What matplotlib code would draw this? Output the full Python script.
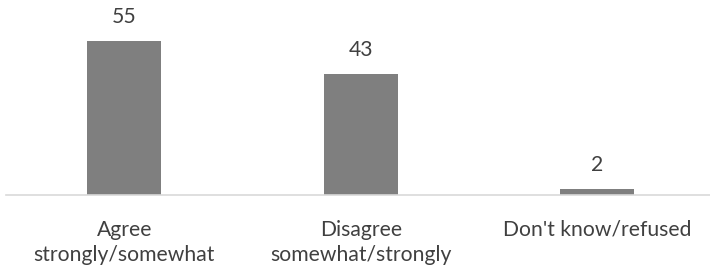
import matplotlib.pyplot as plt

categories = ["Agree\nstrongly/somewhat", "Disagree\nsomewhat/strongly", "Don't know/refused"]
values = [55, 43, 2]

plt.rcParams['font.family'] = ['Lato', 'DejaVu Sans']

fig = plt.figure(figsize=(7.1, 2.71), dpi=100)
ax = fig.add_axes([6 / 710, 1 - 195 / 271, 704 / 710, 195 / 271])

x = list(range(len(categories)))
bars = ax.bar(x, values, width=0.313, color='#7f7f7f', zorder=2)

for rect, v in zip(bars, values):
    ax.annotate(str(v), (rect.get_x() + rect.get_width() / 2, rect.get_height()),
                xytext=(0, 13), textcoords='offset points',
                ha='center', va='baseline', fontsize=15.2, color='#404040')

ax.set_xlim(-0.5, 2.477)
ax.set_ylim(0, 69.5)
ax.set_xticks(x)
ax.set_xticklabels(categories, fontsize=15.2, color='#404040', linespacing=1.3)
ax.tick_params(axis='x', length=0, pad=18)
ax.set_yticks([])
for side in ['top', 'right', 'left']:
    ax.spines[side].set_visible(False)
ax.spines['bottom'].set_color('#d9d9d9')
ax.spines['bottom'].set_linewidth(1.2)
ax.set_facecolor('none')

fig.savefig('out.png', dpi=100)
